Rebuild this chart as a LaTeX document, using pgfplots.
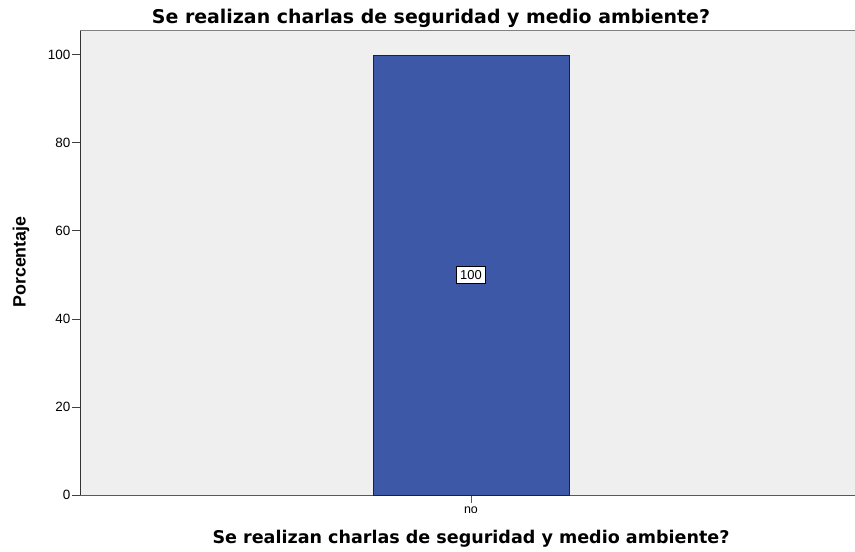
\documentclass[border=0pt]{standalone}
\usepackage{fontspec}
\setmainfont{Liberation Sans}
\newfontfamily\dvs{DejaVu Sans}
\usepackage{pgfplots}
\pgfplotsset{compat=1.18}
\definecolor{barblue}{RGB}{62,88,168}
\definecolor{baredge}{RGB}{30,32,60}
\definecolor{plotbg}{RGB}{239,239,239}
\begin{document}
\begin{tikzpicture}
\begin{axis}[
  at={(80bp,57bp)}, anchor=south west,
  scale only axis,
  width=775bp, height=464.3bp,
  xmin=-2.018, xmax=1.982,
  ymin=0, ymax=105.5,
  axis background/.style={fill=plotbg},
  axis x line*=bottom, axis y line*=left,
  x axis line style={draw=black!65, line width=1pt, -},
  y axis line style={draw=black!80, line width=1pt, -},
  xtick={0}, xticklabels={no},
  ytick={0,20,40,60,80,100},
  tick align=outside,
  major tick length=8bp,
  tick style={draw=black!75, line width=0.9pt},
  xtick style={draw=black!65},
  yticklabel style={font=\fontsize{13.5}{14}\selectfont, inner xsep=1.5bp},
  xticklabel style={font=\fontsize{12.5}{13}\selectfont},
  /pgf/number format/assume math mode=true,
  title={Se realizan charlas de seguridad y medio ambiente?},
  title style={font=\dvs\bfseries\fontsize{19}{21}\selectfont, at={(rel axis cs:0.4529,1.0037)}, anchor=base},
  xlabel={Se realizan charlas de seguridad y medio ambiente?},
  xlabel style={font=\dvs\bfseries\fontsize{17.6}{19}\selectfont, at={(rel axis cs:0.5045,-0.1055)}, anchor=base},
  ylabel={Porcentaje},
  ylabel style={font=\bfseries\fontsize{17.9}{19}\selectfont, at={(rel axis cs:-0.0701,0.5018)}, anchor=base, rotate=0},
  clip=false,
]
\addplot[ybar, bar width=1.012, fill=barblue, draw=baredge, line width=0.8pt] coordinates {(0,100)};
\addplot[draw=none, mark=none, nodes near coords, point meta=explicit symbolic,
  every node near coord/.style={anchor=center, fill=white, draw=black, line width=0.8pt, inner xsep=4bp, inner ysep=3.5bp, font=\fontsize{13}{14}\selectfont}]
  coordinates {(0,50)[100]};
\draw[black!50, line width=1.2pt] (rel axis cs:0,1) -- (rel axis cs:1,1);
\end{axis}
\pgfresetboundingbox
\path (0,0) rectangle (855bp,552bp);
\end{tikzpicture}
\end{document}
